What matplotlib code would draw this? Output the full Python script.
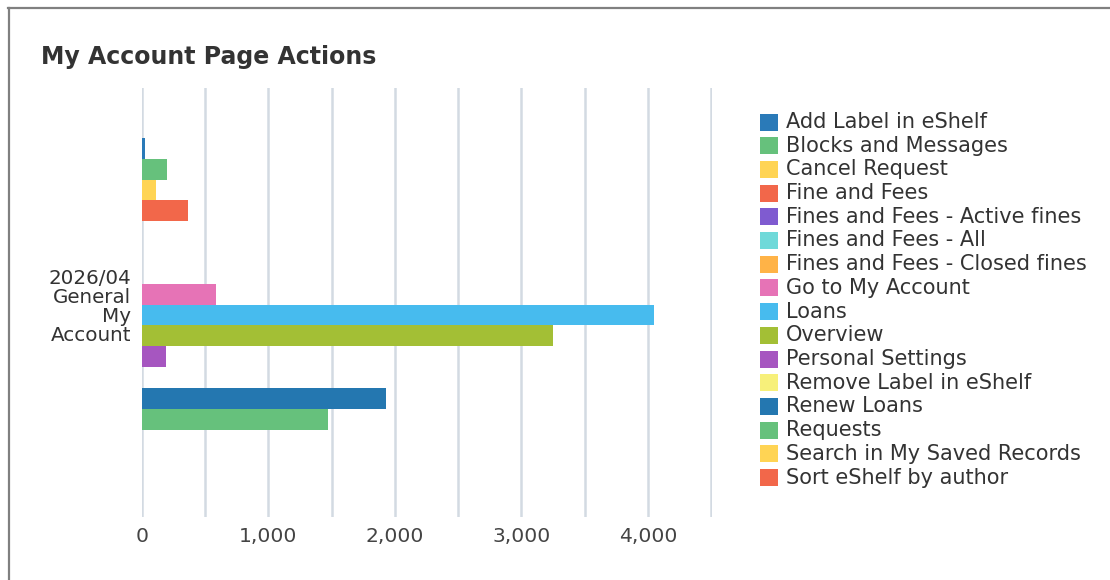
import matplotlib.pyplot as plt
import numpy as np
from matplotlib.lines import Line2D
from matplotlib.patches import Rectangle
from matplotlib.ticker import FuncFormatter, MultipleLocator
from matplotlib.transforms import ScaledTranslation

plt.rcParams["font.family"] = ["DejaVu Sans"]

TITLE = "My Account Page Actions"
CATEGORIES = ["2026/04\nGeneral\nMy\nAccount"]

SERIES = [
    "Add Label in eShelf",
    "Blocks and Messages",
    "Cancel Request",
    "Fine and Fees",
    "Fines and Fees - Active fines",
    "Fines and Fees - All",
    "Fines and Fees - Closed fines",
    "Go to My Account",
    "Loans",
    "Overview",
    "Personal Settings",
    "Remove Label in eShelf",
    "Renew Loans",
    "Requests",
    "Search in My Saved Records",
    "Sort eShelf by author",
]
VALUES = [24, 200, 111, 366, 0, 0, 0, 583, 4053, 3248, 188, 0, 1931, 1473, 0, 0]

COLORS = [
    "#2a7ab8", "#66c17c", "#ffd454", "#f2674a",
    "#7f5bd0", "#6fd9d9", "#ffb347", "#e673b6",
    "#47bbee", "#a3bf35", "#a656c0", "#f7f07a",
    "#2477b0", "#66c17c", "#ffd454", "#f2674a",
]

W, H = 1110, 580
fig = plt.figure(figsize=(W / 100, H / 100), dpi=100)


def fx(px):
    return px / W


def fy(py):
    return 1 - py / H


# outer frame: only top and left edges are visible
fig.add_artist(Line2D([fx(8), 1], [fy(7.5), fy(7.5)], color="#808080", lw=1.6))
fig.add_artist(Line2D([fx(8.5), fx(8.5)], [fy(7.5), 0], color="#808080", lw=1.6))

fig.text(fx(41), fy(57), TITLE, fontsize=17, fontweight="bold", color="#333333",
         va="center", ha="left")

ax = fig.add_axes([fx(142), fy(517), fx(712) - fx(142), (517 - 88) / H])

n = len(SERIES)
for i, (name, val, col) in enumerate(zip(SERIES, VALUES, COLORS)):
    ax.barh(i - (n - 1) / 2, val, height=1.0, color=col, label=name, zorder=3)

ax.set_yticks([0])
ax.set_yticklabels(CATEGORIES, fontsize=14.3, color="#333333", linespacing=1.0)
for lab in ax.get_yticklabels():
    lab.set_transform(lab.get_transform() + ScaledTranslation(0, 5 / 100, fig.dpi_scale_trans))
ax.set_ylim(10.2, -10.4)
ax.set_xlim(0, 4508)
ax.xaxis.set_major_locator(MultipleLocator(1000))
ax.xaxis.set_minor_locator(MultipleLocator(500))
ax.xaxis.set_major_formatter(FuncFormatter(lambda v, p: f"{int(v):,}"))
ax.grid(axis="x", which="both", color="#d3dae2", lw=1.8, zorder=0)
ax.tick_params(axis="both", which="both", length=0)
ax.tick_params(axis="x", labelsize=14.6, labelcolor="#444444", pad=7)
ax.tick_params(axis="y", pad=8)
for s in ax.spines.values():
    s.set_visible(False)

# legend drawn by hand to keep the row spacing of the original
for i, (name, col) in enumerate(zip(SERIES, COLORS)):
    yc = 122 + i * 23.7
    fig.add_artist(Rectangle((fx(760), fy(yc + 8.5)), fx(18), 17 / H,
                             facecolor=col, edgecolor="none"))
    fig.text(fx(786), fy(yc), name, fontsize=15, color="#333333",
             va="center", ha="left")

fig.savefig("out.png", dpi=100)
